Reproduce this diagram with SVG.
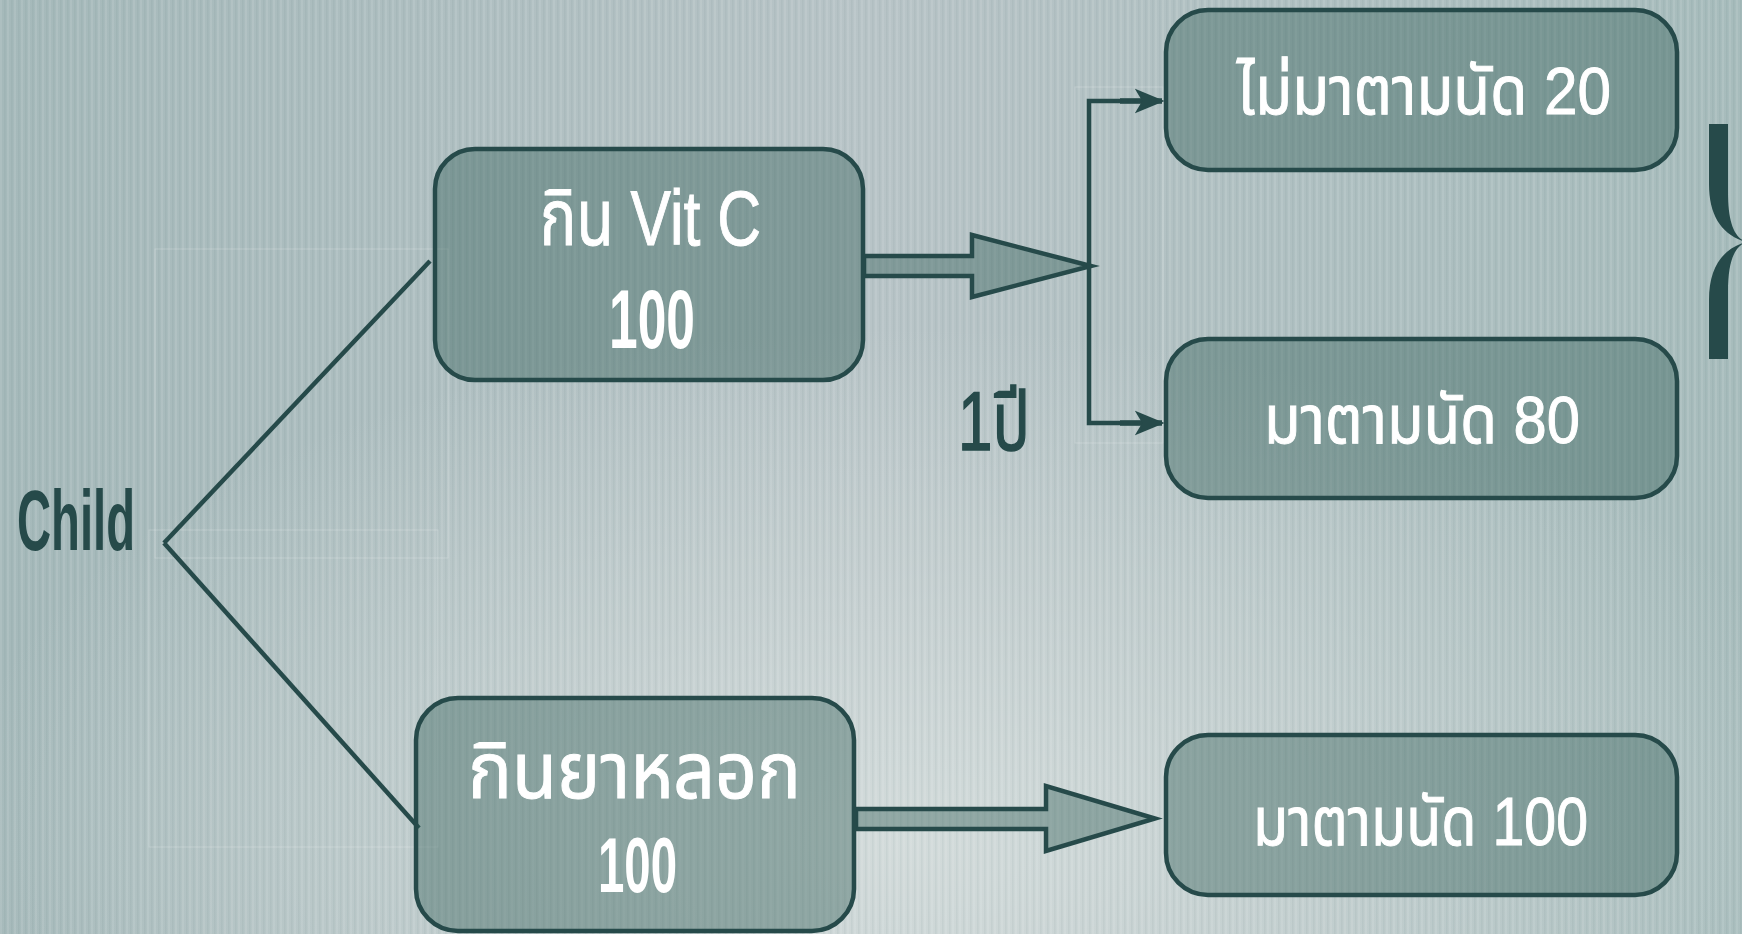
<svg xmlns="http://www.w3.org/2000/svg" width="1742" height="934" viewBox="0 0 1742 934">
  <defs>
    <linearGradient id="bgBase" x1="0" y1="0" x2="1" y2="0">
      <stop offset="0" stop-color="#a5b9ba"/>
      <stop offset="0.5" stop-color="#b8c4c7"/>
      <stop offset="1" stop-color="#a7bcbc"/>
    </linearGradient>
    <radialGradient id="bgGlow" cx="0.52" cy="0.9" r="0.55">
      <stop offset="0" stop-color="#d6dedd" stop-opacity="0.9"/>
      <stop offset="1" stop-color="#d6dedd" stop-opacity="0"/>
    </radialGradient>
    <pattern id="stripes" width="7" height="10" patternUnits="userSpaceOnUse">
      <rect x="0" y="0" width="2" height="10" fill="#ffffff" opacity="0.09"/>
      <rect x="4" y="0" width="1.5" height="10" fill="#2c4f4f" opacity="0.05"/>
    </pattern>
    <marker id="arr" viewBox="0 0 12 10" refX="11" refY="5" markerWidth="5.4" markerHeight="5.4" orient="auto" markerUnits="strokeWidth">
      <path d="M0,0 L12,5 L0,10 L3,5 z" fill="#264a4a"/>
    </marker>
  </defs>
  <style>
    .box { fill: #2f5d55; fill-opacity: 0.4; stroke: #264a4a; stroke-width: 4.5; }
    .arrowblk { fill: #2f5d55; fill-opacity: 0.4; stroke: #264a4a; stroke-width: 4.5; stroke-linejoin: miter; }
    .wt { fill: #ffffff; stroke: #ffffff; stroke-width: 1; font-family: "Liberation Sans", "Noto Sans Thai", "Noto Sans", "DejaVu Sans", sans-serif; }
    .dk { fill: #264a4a; font-family: "Liberation Sans", "Noto Sans Thai", "Noto Sans", "DejaVu Sans", sans-serif; }
    .b { font-weight: bold; stroke-width: 0; }
    .ln { stroke: #264a4a; stroke-width: 4.5; fill: none; }
    .faint { stroke: #ffffff; stroke-opacity: 0.22; stroke-width: 1; fill: none; }
  </style>

  <!-- background -->
  <rect x="0" y="0" width="1742" height="934" fill="url(#bgBase)"/>
  <rect x="0" y="0" width="1742" height="934" fill="url(#bgGlow)"/>
  <rect x="0" y="0" width="1742" height="934" fill="url(#stripes)"/>

  <!-- faint selection outlines -->
  <g id="faint-outlines">
    <rect class="faint" x="155" y="249" width="293" height="309"/>
    <rect class="faint" x="149" y="530" width="289" height="317"/>
    <rect class="faint" x="1075" y="87" width="88" height="356"/>
  </g>

  <!-- connectors -->
  <g id="connectors">
    <line class="ln" x1="430" y1="261" x2="164" y2="543"/>
    <line class="ln" x1="164" y1="543" x2="419" y2="828"/>
    <polygon class="arrowblk" points="864,256 972,256 972,235 1091,266 972,297 972,276 864,276"/>
    <polygon class="arrowblk" points="856,809 1046,809 1046,786 1155,818.5 1046,851 1046,829 856,829"/>
    <path class="ln" d="M1144,101 H1089 V423 H1144" stroke-width="5.5"/>
    <line x1="1120" y1="101" x2="1162" y2="101" stroke="#264a4a" stroke-width="5.5" marker-end="url(#arr)"/>
    <line x1="1120" y1="423" x2="1162" y2="423" stroke="#264a4a" stroke-width="5.5" marker-end="url(#arr)"/>
  </g>

  <!-- nodes -->
  <g id="node-child">
    <text class="dk b" x="17" y="550" font-size="86" textLength="118" lengthAdjust="spacingAndGlyphs">Child</text>
  </g>

  <g id="node-vitc">
    <rect class="box" x="435" y="149" width="428" height="231" rx="40" ry="40"/>
    <text class="wt" x="540" y="245" font-size="78" textLength="221" lengthAdjust="spacingAndGlyphs">กิน Vit C</text>
    <text class="wt b" x="609" y="348" font-size="83" textLength="86" lengthAdjust="spacingAndGlyphs">100</text>
  </g>

  <g id="node-placebo">
    <rect class="box" x="416" y="698" width="438" height="233" rx="42" ry="42"/>
    <text class="wt" x="468" y="798" font-size="78" textLength="333" lengthAdjust="spacingAndGlyphs">กินยาหลอก</text>
    <text class="wt b" x="598" y="892" font-size="77" textLength="79" lengthAdjust="spacingAndGlyphs">100</text>
  </g>

  <g id="node-noshow20">
    <rect class="box" x="1166" y="10" width="511" height="160" rx="42" ry="42"/>
    <text class="wt" x="1237" y="114" font-size="67" textLength="374" lengthAdjust="spacingAndGlyphs">ไม่มาตามนัด 20</text>
  </g>

  <g id="node-show80">
    <rect class="box" x="1166" y="339" width="511" height="159" rx="42" ry="42"/>
    <text class="wt" x="1264" y="443" font-size="67" textLength="316" lengthAdjust="spacingAndGlyphs">มาตามนัด 80</text>
  </g>

  <g id="node-show100">
    <rect class="box" x="1166" y="735" width="511" height="160" rx="42" ry="42"/>
    <text class="wt" x="1253" y="845" font-size="68" textLength="335" lengthAdjust="spacingAndGlyphs">มาตามนัด 100</text>
  </g>

  <g id="label-1yr">
    <text class="dk" x="958" y="450" font-size="83" stroke="#264a4a" stroke-width="1.5" textLength="72" lengthAdjust="spacingAndGlyphs">1ปี</text>
  </g>

  <g id="brace">
    <path d="M1709,124 H1728 V192 C1728,222 1734,237 1746,242 C1734,247 1728,262 1728,292 V359 H1709 V300 C1709,268 1722,249 1746,242 C1722,235 1709,216 1709,184 Z" fill="#264a4a"/>
  </g>
</svg>
